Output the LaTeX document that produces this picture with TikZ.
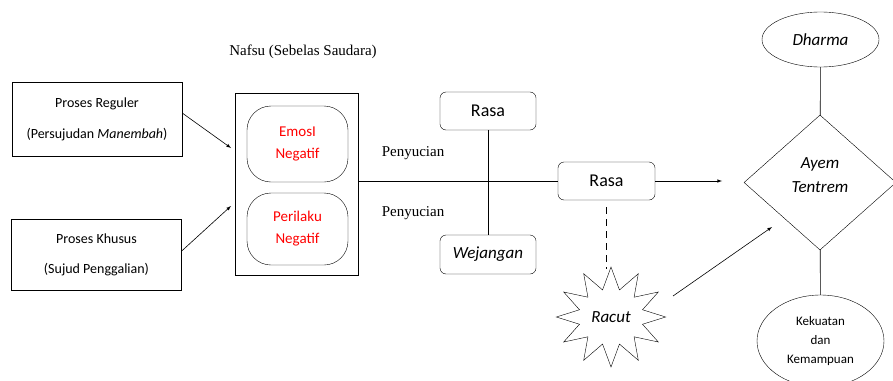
\documentclass[tikz,border=0pt]{standalone}
\usepackage{fontspec}
\setmainfont{Carlito}
\newfontfamily\timesfont{Liberation Serif}
\usetikzlibrary{arrows,shapes.geometric,shapes.symbols}

\begin{document}
\begin{tikzpicture}[x=1pt,y=-1pt,>=latex,semithick,
                    every node/.style={font=\fontsize{14}{17}\selectfont}]
  \tikzstyle{proses}=[draw,thin,minimum width=170pt,minimum height=74pt,align=center]
  \tikzstyle{nafsubox}=[draw,thin,rounded corners=24pt,minimum width=101pt,
                        minimum height=76pt,align=center,text=red,
                        font=\fontsize{15}{18}\selectfont]
  \tikzstyle{rasabox}=[draw,thin,rounded corners=6pt,minimum width=96pt,minimum height=38pt,
                       font=\fontsize{18}{21}\selectfont]
  \tikzstyle{serif label}=[font=\timesfont\fontsize{15}{18}\selectfont]
  \useasboundingbox (0,0) rectangle (893,380);

  \node[serif label] (title) at (303,52) {Nafsu (Sebelas Saudara)};
  \node[proses] (reguler) at (97,119) {Proses Reguler\\[14pt](Persujudan \textit{Manembah})};
  \node[proses,minimum height=71pt] (khusus) at (96.5,254.5) {Proses Khusus\\[13pt](Sujud Penggalian)};

  \node[draw,thin,minimum width=123pt,minimum height=182pt] (nafsu) at (296.5,184) {};
  \node[nafsubox] (emosi) at (297.5,144) {EmosI\\[4pt]Negatif};
  \node[nafsubox,minimum height=72pt] (perilaku) at (297.5,229) {Perilaku\\[4pt]Negatif};

  \node[serif label] (penyucian1) at (413,153) {Penyucian};
  \node[serif label] (penyucian2) at (413,213) {Penyucian};

  \node[rasabox] (rasa1) at (488,111) {Rasa};
  \node[rasabox,minimum height=39pt,font=\fontsize{17}{20}\selectfont\itshape] (wejangan) at (488,254.5) {Wejangan};
  \node[rasabox,minimum width=97pt] (rasa2) at (606.5,181) {Rasa};

  \node[starburst,draw,thin,starburst points=12,starburst point height=22pt,random starburst=0,
        minimum width=108pt,minimum height=100pt,
        font=\fontsize{17}{20}\selectfont\itshape] (racut) at (611,317) {Racut};

  \node[ellipse,draw,thin,minimum width=117pt,minimum height=55pt,
        font=\fontsize{17}{20}\selectfont\itshape] (dharma) at (820.5,39.5) {Dharma};
  \node[diamond,draw,thin,minimum width=152pt,minimum height=135pt,inner sep=0pt,align=center,
        font=\fontsize{17}{20}\selectfont\itshape] (ayem) at (820,182.5) {Ayem\\[4pt]Tentrem\\[-6pt]};
  \node[ellipse,draw,thin,minimum width=127pt,minimum height=92pt,align=center,
        font=\fontsize{13}{16}\selectfont] (kekuatan) at (820.5,341) {Kekuatan\\[3pt]dan\\[3pt]Kemampuan};

  \coordinate (in1) at (231,148);
  \coordinate (in2) at (231,206);
  \coordinate (tip) at (722,181);
  \coordinate (racutout) at (673,296);
  \coordinate (ayemin) at (772,227);

  \draw[->] ([yshift=6pt]reguler.east) -- (in1);
  \draw[->] ([yshift=3.5pt]khusus.east) -- (in2);
  \draw (nafsu.east |- rasa2.west) -- (rasa2.west);
  \draw (rasa1) -- (wejangan);
  \draw[->] (rasa2) -- (tip);
  \draw[dashed,thick,dash pattern=on 7pt off 5pt,shorten <=7pt]
    (rasa2.south) -- ([yshift=-3pt]rasa2.south |- racut.north);
  \draw[->] (racutout) -- (ayemin);
  \draw (dharma) -- (ayem);
  \draw (ayem) -- (kekuatan);
\end{tikzpicture}
\end{document}
